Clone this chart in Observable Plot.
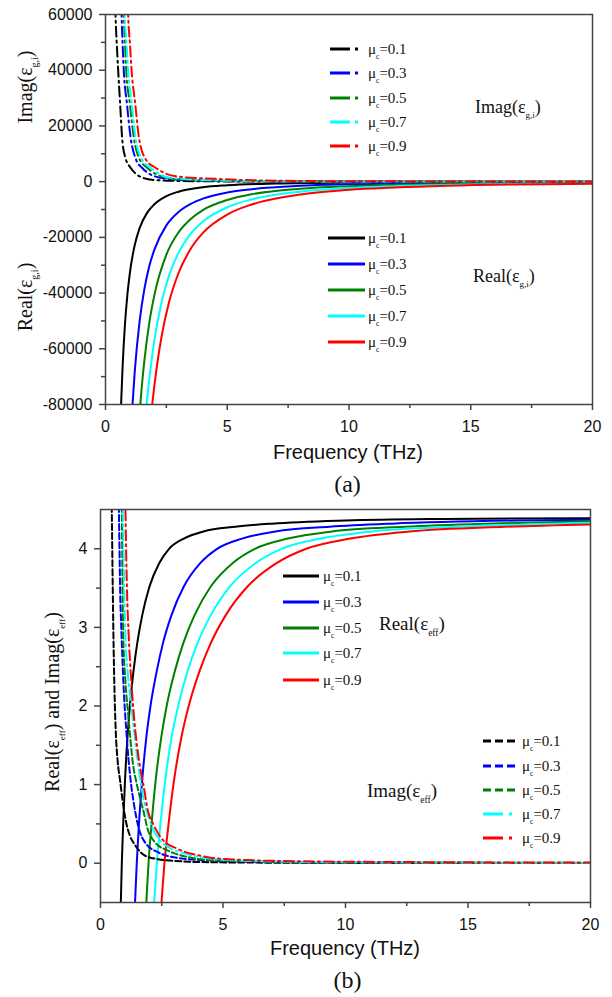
<!DOCTYPE html>
<html>
<head>
<meta charset="utf-8">
<script src="https://cdn.jsdelivr.net/npm/d3@7"></script>
<script src="https://cdn.jsdelivr.net/npm/@observablehq/plot@0.6"></script>
<style>
  html, body { margin: 0; padding: 0; background: #fff; }
  body { width: 612px; height: 997px; overflow: hidden; }
  .cap { font-family: 'Liberation Serif', 'Times New Roman', serif; font-size: 24px; color: #111;
         text-align: center; margin-left: 100px; width: 495px; }
  svg { display: block; }
</style>
</head>
<body>
<div id="pa"></div>
<div class="cap" style="height:38px;line-height:38px;">(a)</div>
<div id="pb"></div>
<div class="cap" style="height:34px;line-height:34px;">(b)</div>
<script>
// ---------------- data ----------------
const muLabels = ["0.1", "0.3", "0.5", "0.7", "0.9"];
const colors = ["#000000", "#0000ff", "#008000", "#00ffff", "#ff0000"];
const freqTicks = [0, 5, 10, 15, 20];
const freqMinor = [2.5, 7.5, 12.5, 17.5];
const aYTicks = [60000, 40000, 20000, 0, -20000, -40000, -60000, -80000];
const aYMinor = [50000, 30000, 10000, -10000, -30000, -50000, -70000];
const bYTicks = [0, 1, 2, 3, 4];
const bYMinor = [0.5, 1.5, 2.5, 3.5];

// Panel (a): Imag(eps_g,i)  [frequency THz, value]
const aImag01 = [[0.38,70000],[0.41,60000],[0.46,50000],[0.52,40000],[0.6,28000],[0.68,16000],[0.8,9000],[1.03,5000],[1.25,2800],[1.5,1500],[2,600],[3,250],[5,80],[10,20],[20,5]];
const aImag03 = [[0.63,70000],[0.66,60000],[0.7,50000],[0.75,40000],[0.88,28000],[1.03,16000],[1.25,8000],[1.5,5000],[1.8,2800],[2.2,1500],[3,700],[4,350],[6,120],[10,40],[20,10]];
const aImag05 = [[0.72,70000],[0.75,60000],[0.8,50000],[0.85,40000],[1.0,28000],[1.16,16000],[1.4,8000],[1.71,5000],[2.05,2800],[2.46,1500],[3.3,700],[4.5,350],[6.5,150],[10,60],[20,15]];
const aImag07 = [[0.76,70000],[0.79,60000],[0.86,50000],[0.93,40000],[1.08,28000],[1.23,16000],[1.5,8000],[1.85,5000],[2.2,2800],[2.6,1500],[3.5,800],[4.8,400],[7,170],[10,70],[20,20]];
const aImag09 = [[0.9,70000],[0.93,60000],[1.0,50000],[1.07,40000],[1.22,28000],[1.37,16000],[1.65,8000],[2.05,5000],[2.5,2800],[3.0,1800],[4.5,1000],[6,500],[8,250],[12,100],[20,30]];

// Panel (a): Real(eps_g,i)
const aReal01 = [[0.6,-91000],[0.64,-80000],[0.7,-66900],[0.8,-51200],[0.9,-40500],[1.0,-32800],[1.2,-22800],[1.4,-16700],[1.7,-11300],[2,-8200],[2.5,-5200],[3,-3600],[4,-2000],[5,-1300],[7,-670],[10,-330],[14,-170],[20,-80]];
const aReal03 = [[1.05,-89000],[1.11,-80000],[1.2,-68300],[1.4,-50200],[1.6,-38400],[1.8,-30300],[2,-24600],[2.5,-15700],[3,-10900],[3.5,-8000],[4,-6100],[5,-3900],[6,-2700],[8,-1500],[10,-980],[14,-500],[20,-250]];
const aReal05 = [[1.36,-89000],[1.43,-80000],[1.6,-64000],[1.8,-50600],[2,-41000],[2.5,-26200],[3,-18200],[3.5,-13400],[4,-10200],[5,-6600],[6,-4550],[8,-2560],[10,-1640],[14,-840],[20,-410]];
const aReal07 = [[1.62,-87000],[1.69,-80000],[1.8,-70800],[2,-57300],[2.3,-43400],[2.6,-33900],[3,-25500],[3.5,-18700],[4,-14300],[5,-9200],[6,-6400],[8,-3600],[10,-2300],[14,-1170],[20,-570]];
const aReal09 = [[1.85,-86000],[1.92,-80000],[2.1,-66900],[2.3,-55700],[2.6,-43600],[3,-32800],[3.5,-24100],[4,-18400],[5,-11800],[6,-8200],[8,-4600],[10,-2950],[14,-1500],[20,-740]];

// Panel (b): Real(eps_eff)
const bReal01 = [[0.79,-1.0],[0.83,-0.5],[0.87,0.0],[0.92,0.45],[1.0,1.05],[1.1,1.6],[1.2,2.0],[1.35,2.45],[1.5,2.8],[1.7,3.15],[2.0,3.52],[2.4,3.82],[2.8,4.0],[3.4,4.13],[4.2,4.22],[5.5,4.28],[7,4.32],[10,4.36],[14,4.38],[20,4.39]];
const bReal03 = [[1.34,-1.0],[1.41,-0.5],[1.48,0.0],[1.56,0.45],[1.70,1.05],[1.87,1.6],[2.04,2.0],[2.30,2.45],[2.55,2.8],[2.89,3.15],[3.4,3.52],[4.08,3.82],[4.76,4.0],[5.78,4.13],[7.14,4.22],[9.35,4.28],[11.9,4.32],[17,4.36],[20,4.37]];
const bReal05 = [[1.78,-1.0],[1.87,-0.5],[1.96,0.0],[2.07,0.45],[2.25,1.05],[2.48,1.6],[2.7,2.0],[3.04,2.45],[3.38,2.8],[3.83,3.15],[4.5,3.52],[5.4,3.82],[6.3,4.0],[7.65,4.13],[9.45,4.22],[12.4,4.28],[15.75,4.32],[20,4.35]];
const bReal07 = [[2.09,-1.0],[2.19,-0.5],[2.3,0.0],[2.43,0.45],[2.64,1.05],[2.9,1.6],[3.17,2.0],[3.56,2.45],[3.96,2.8],[4.49,3.15],[5.28,3.52],[6.34,3.82],[7.39,4.0],[8.98,4.13],[11.1,4.22],[14.5,4.28],[18.5,4.32],[20,4.33]];
const bReal09 = [[2.37,-1.0],[2.49,-0.5],[2.61,0.0],[2.76,0.45],[3.0,1.05],[3.3,1.6],[3.6,2.0],[4.05,2.45],[4.5,2.8],[5.1,3.15],[6.0,3.52],[7.2,3.82],[8.4,4.0],[10.2,4.13],[12.6,4.22],[16.5,4.28],[20,4.31]];

// Panel (b): Imag(eps_eff)
const bImag01 = [[0.43,5.0],[0.46,4.5],[0.5,3.5],[0.55,2.5],[0.62,1.7],[0.7,1.3],[0.8,1.05],[0.9,0.8],[1.06,0.5],[1.2,0.35],[1.39,0.24],[1.8,0.1],[2.35,0.05],[3,0.03],[4,0.015],[6,0.008],[10,0.004],[20,0.001]];
const bImag03 = [[0.72,5.0],[0.75,4.5],[0.8,3.5],[0.86,2.9],[0.95,2.2],[1.05,1.7],[1.15,1.3],[1.25,1.0],[1.35,0.78],[1.54,0.47],[1.85,0.25],[2.35,0.14],[3.3,0.06],[4.5,0.035],[7,0.015],[10,0.008],[20,0.003]];
const bImag05 = [[0.84,5.0],[0.87,4.5],[0.9,3.5],[0.93,2.9],[1.02,2.3],[1.13,1.9],[1.33,1.25],[1.45,1.05],[1.6,0.85],[1.74,0.68],[1.94,0.42],[2.21,0.27],[2.76,0.16],[3.7,0.07],[4.5,0.04],[7,0.02],[10,0.01],[20,0.004]];
const bImag07 = [[0.9,5.0],[0.92,4.5],[0.97,3.5],[1.02,2.9],[1.12,2.4],[1.26,2.0],[1.4,1.6],[1.54,1.25],[1.74,0.85],[2.0,0.55],[2.35,0.32],[2.8,0.2],[3.5,0.12],[4.2,0.07],[6,0.03],[10,0.012],[20,0.005]];
const bImag09 = [[1.0,5.0],[1.02,4.5],[1.08,3.5],[1.15,2.9],[1.24,2.4],[1.33,2.0],[1.45,1.6],[1.6,1.25],[1.75,1.0],[1.94,0.66],[2.15,0.5],[2.48,0.32],[3.16,0.18],[4.0,0.1],[4.5,0.07],[6,0.04],[8,0.025],[12,0.015],[20,0.008]];

// ---------------- drawing ----------------
const SERIF = "'Liberation Serif','Times New Roman',serif";
const SANS = "'Liberation Sans',Arial,Helvetica,sans-serif";
const AX = "#444";
const DASHDOT = "10,4,2,4";
const DASH = "6,3";

function makePanel(o) {
  const marks = [];
  for (const s of o.series) {
    marks.push(Plot.line(s.data, {
      x: d => d[0], y: d => d[1], stroke: s.color, strokeWidth: 2,
      strokeDasharray: s.dash, curve: "monotone-x", clip: "frame"
    }));
  }
  marks.push(
    Plot.frame({stroke: AX, strokeWidth: 1.5}),
    Plot.axisX({ticks: freqMinor, tickSize: 4, tickFormat: () => "", label: null, stroke: AX, strokeWidth: 1.5}),
    Plot.axisX({ticks: freqTicks, tickSize: 6, tickPadding: 10, tickFormat: d => String(d), label: null,
                stroke: AX, strokeWidth: 1.5, fill: "#111", fontSize: 16}),
    Plot.axisY({ticks: o.yMinor, tickSize: 4, tickFormat: () => "", label: null, stroke: AX, strokeWidth: 1.5}),
    Plot.axisY({ticks: o.yTicks, tickSize: 6, tickPadding: 7, tickFormat: d => String(d), label: null,
                stroke: AX, strokeWidth: 1.5, fill: "#111", fontSize: 16})
  );
  const svg = Plot.plot({
    width: 612, height: o.height,
    marginTop: o.mt, marginBottom: o.mb, marginLeft: o.ml, marginRight: o.mr,
    x: {domain: [0, 20]},
    y: {domain: o.yDomain},
    style: {fontFamily: SANS, fontSize: "16px", color: "#111", background: "#fff"},
    marks
  });
  // drop the empty labels of the minor-tick axes
  d3.select(svg).selectAll("text").filter(function () { return this.textContent === ""; }).remove();
  return svg;
}

function rich(g, x, y, parts, size, opts = {}) {
  const t = g.append("text")
    .attr("x", x).attr("y", y)
    .attr("font-family", SERIF).attr("font-size", size)
    .attr("fill", "#111")
    .attr("text-anchor", opts.anchor || "start");
  if (opts.rotate) t.attr("transform", `rotate(-90 ${x} ${y})`);
  const sh = Math.round(size * 0.3);
  let pending = 0;
  for (const p of parts) {
    if (typeof p === "string") {
      const ts = t.append("tspan").text(p);
      if (pending) { ts.attr("dy", -pending); pending = 0; }
    } else {
      t.append("tspan").attr("font-size", size * (p.scale || 0.5)).attr("dy", sh).text(p.sub);
      pending = sh;
    }
  }
  return t;
}

function legend(g, x1, x2, tx, ys, dashes, size) {
  ys.forEach((y, i) => {
    g.append("line").attr("x1", x1).attr("x2", x2).attr("y1", y).attr("y2", y)
      .attr("stroke", colors[i]).attr("stroke-width", 3)
      .attr("stroke-dasharray", dashes[i] || null);
    rich(g, tx, y + 5, ["\u03BC", {sub: "c"}, "=" + muLabels[i]], size);
  });
}

// Panel (a)
const svgA = makePanel({
  height: 465, mt: 14, mb: 61, ml: 105, mr: 20,
  yDomain: [-80000, 60000], yTicks: aYTicks, yMinor: aYMinor,
  series: [
    {data: aReal01, color: colors[0]}, {data: aReal03, color: colors[1]},
    {data: aReal05, color: colors[2]}, {data: aReal07, color: colors[3]},
    {data: aReal09, color: colors[4]},
    {data: aImag01, color: colors[0], dash: DASHDOT}, {data: aImag03, color: colors[1], dash: DASHDOT},
    {data: aImag05, color: colors[2], dash: DASHDOT}, {data: aImag07, color: colors[3], dash: DASHDOT},
    {data: aImag09, color: colors[4], dash: DASHDOT}
  ]
});
document.getElementById("pa").appendChild(svgA);
{
  const g = d3.select(svgA).append("g");
  g.append("text").attr("x", 348).attr("y", 459).attr("text-anchor", "middle")
    .attr("font-family", SANS).attr("font-size", 20).attr("fill", "#111").text("Frequency (THz)");
  rich(g, 32, 87, ["Imag(\u03B5", {sub: "g,i"}, ")"], 20, {rotate: true, anchor: "middle"});
  rich(g, 32, 297, ["Real(\u03B5", {sub: "g,i"}, ")"], 20, {rotate: true, anchor: "middle"});
  const dd = "20,5,3,60";
  legend(g, 330, 358, 368, [49, 73, 98, 122, 146], [dd, dd, dd, dd, dd], 15);
  legend(g, 328, 365, 368, [238, 264, 290, 316, 342], [], 15);
  rich(g, 475, 113, ["Imag(\u03B5", {sub: "g,i"}, ")"], 18);
  rich(g, 473, 282, ["Real(\u03B5", {sub: "g,i"}, ")"], 18);
}

// Panel (b)
const svgB = makePanel({
  height: 460, mt: 6, mb: 61, ml: 100, mr: 22,
  yDomain: [-0.5, 4.5], yTicks: bYTicks, yMinor: bYMinor,
  series: [
    {data: bReal01, color: colors[0]}, {data: bReal03, color: colors[1]},
    {data: bReal05, color: colors[2]}, {data: bReal07, color: colors[3]},
    {data: bReal09, color: colors[4]},
    {data: bImag01, color: colors[0], dash: DASH}, {data: bImag03, color: colors[1], dash: DASH},
    {data: bImag05, color: colors[2], dash: DASH}, {data: bImag07, color: colors[3], dash: DASHDOT},
    {data: bImag09, color: colors[4], dash: DASHDOT}
  ]
});
document.getElementById("pb").appendChild(svgB);
{
  const g = d3.select(svgB).append("g");
  g.append("text").attr("x", 345).attr("y", 452).attr("text-anchor", "middle")
    .attr("font-family", SANS).attr("font-size", 20).attr("fill", "#111").text("Frequency (THz)");
  rich(g, 59, 199, ["Real(\u03B5", {sub: "eff", scale: 0.45}, ") and Imag(\u03B5", {sub: "eff", scale: 0.45}, ")"], 20, {rotate: true, anchor: "middle"});
  legend(g, 283, 319, 323, [73, 99, 125, 150, 177], [], 15);
  const dd = "20,6,3,60";
  legend(g, 483, 515, 522, [238, 263, 287, 311, 335], ["8,4", "8,4", "8,4", dd, dd], 15);
  rich(g, 379, 127, ["Real(\u03B5", {sub: "eff"}, ")"], 19);
  rich(g, 367, 294, ["Imag(\u03B5", {sub: "eff"}, ")"], 19);
}
</script>
</body>
</html>
